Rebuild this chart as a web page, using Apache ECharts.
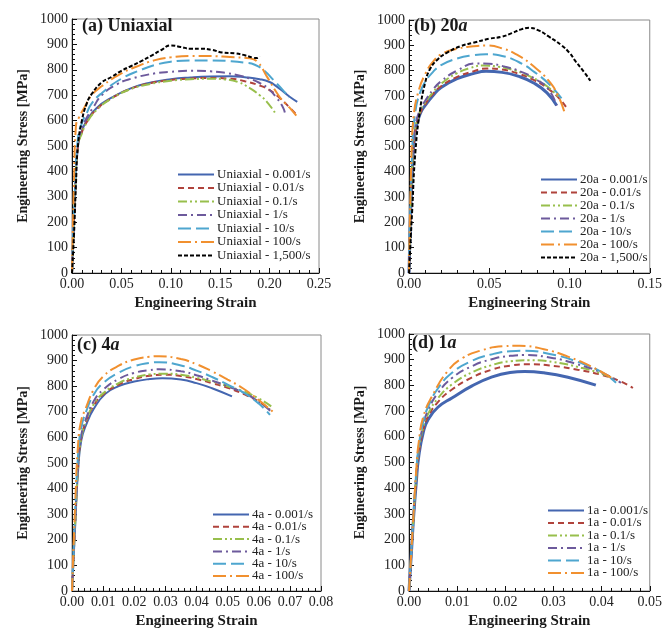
<!DOCTYPE html>
<html>
<head>
<meta charset="utf-8">
<script src="https://cdn.jsdelivr.net/npm/echarts@6/dist/echarts.min.js"></script>
<style>html,body{margin:0;padding:0;background:#fff;}#c{width:665px;height:630px;}</style>
</head>
<body>
<div id="c"></div>
<script>
// ---------- tick labels / axis ranges ----------
const panelTitles = ['(a) Uniaxial', '(b) 20{i|a}', '(c) 4{i|a}', '(d) 1{i|a}'];
const xMax = [0.25, 0.15, 0.08, 0.05];
const xStep = [0.05, 0.05, 0.01, 0.01];
const yMax = 1000;
const yStep = 100;
const rates7 = ['0.001/s', '0.01/s', '0.1/s', '1/s', '10/s', '100/s', '1,500/s'];
const prefixes = ['Uniaxial', '20a', '4a', '1a'];

// ---------- (a) Uniaxial ----------
const uni_0001 = [[0,0],[0.003,300],[0.006,500],[0.01,560],[0.015,600],[0.025,650],[0.04,690],[0.06,728],[0.08,750],[0.1,763],[0.12,770],[0.14,774],[0.16,775],[0.175,771],[0.19,763],[0.2,752],[0.207,735],[0.214,714],[0.221,692],[0.228,674]];
const uni_001 = [[0,0],[0.003,300],[0.006,500],[0.01,555],[0.015,595],[0.025,645],[0.04,688],[0.06,726],[0.08,748],[0.1,760],[0.12,766],[0.14,768],[0.16,765],[0.175,755],[0.19,738],[0.2,720],[0.21,690],[0.22,652],[0.226,628]];
const uni_01 = [[0,0],[0.003,300],[0.006,500],[0.01,550],[0.015,592],[0.025,642],[0.04,687],[0.06,725],[0.08,745],[0.1,757],[0.12,763],[0.14,765],[0.155,762],[0.168,752],[0.18,728],[0.19,700],[0.197,675],[0.206,628]];
const uni_1 = [[0,0],[0.003,320],[0.006,510],[0.01,570],[0.015,612],[0.022,655],[0.03,700],[0.045,742],[0.06,765],[0.084,786],[0.1,792],[0.12,796],[0.14,794],[0.155,788],[0.17,777],[0.18,765],[0.19,748],[0.198,728],[0.207,690],[0.214,648],[0.216,618]];
const uni_10 = [[0,0],[0.003,330],[0.006,530],[0.01,590],[0.015,630],[0.02,668],[0.03,708],[0.05,765],[0.07,800],[0.084,819],[0.1,832],[0.12,837],[0.14,837],[0.16,834],[0.175,828],[0.185,820],[0.195,795],[0.205,755],[0.213,722],[0.22,690]];
const uni_100 = [[0,0],[0.002,350],[0.004,580],[0.007,612],[0.012,648],[0.02,700],[0.03,735],[0.05,786],[0.065,812],[0.084,838],[0.1,849],[0.12,854],[0.14,854],[0.16,850],[0.18,845],[0.188,830],[0.197,775],[0.21,694],[0.22,652],[0.227,620]];
const uni_1500 = [[0,0],[0.002,150],[0.004,350],[0.006,500],[0.01,600],[0.015,668],[0.02,705],[0.03,750],[0.04,772],[0.05,796],[0.06,815],[0.07,834],[0.08,855],[0.09,877],[0.1,896],[0.11,890],[0.12,883],[0.13,883],[0.142,878],[0.152,868],[0.165,865],[0.175,857],[0.183,848],[0.187,846],[0.19,853]];

// ---------- (b) 20a ----------
const b_0001 = [[0,0],[0.002,400],[0.004,560],[0.007,630],[0.01,662],[0.015,702],[0.02,733],[0.03,768],[0.04,788],[0.048,797],[0.058,793],[0.068,778],[0.078,750],[0.086,712],[0.092,662]];
const b_001 = [[0,0],[0.002,400],[0.004,560],[0.007,632],[0.01,666],[0.015,708],[0.02,738],[0.03,775],[0.04,797],[0.048,808],[0.058,804],[0.068,788],[0.078,762],[0.088,722],[0.095,680],[0.099,644]];
const b_01 = [[0,0],[0.002,410],[0.004,570],[0.007,640],[0.01,672],[0.015,715],[0.02,748],[0.03,790],[0.038,810],[0.046,820],[0.056,815],[0.066,800],[0.076,775],[0.086,738],[0.094,690]];
const b_1 = [[0,0],[0.002,420],[0.004,580],[0.007,648],[0.01,680],[0.015,725],[0.02,758],[0.03,800],[0.042,828],[0.05,827],[0.06,815],[0.07,795],[0.08,762],[0.087,725],[0.092,662]];
const b_10 = [[0,0],[0.002,480],[0.004,640],[0.007,715],[0.01,755],[0.015,795],[0.02,822],[0.03,848],[0.04,861],[0.048,865],[0.058,858],[0.068,835],[0.078,795],[0.088,742],[0.095,690]];
const b_100 = [[0,0],[0.0015,450],[0.003,625],[0.006,720],[0.01,785],[0.015,835],[0.02,864],[0.03,886],[0.04,896],[0.048,899],[0.058,888],[0.068,860],[0.078,815],[0.087,760],[0.093,700],[0.097,632]];
const b_1500 = [[0,0],[0.002,250],[0.004,480],[0.007,650],[0.01,750],[0.013,805],[0.018,845],[0.024,872],[0.032,896],[0.04,910],[0.05,926],[0.058,934],[0.064,948],[0.07,963],[0.075,969],[0.081,958],[0.087,935],[0.095,900],[0.1,870],[0.104,835],[0.109,795],[0.113,760]];

// ---------- (c) 4a ----------
const c_0001 = [[0,0],[0.001,250],[0.002,480],[0.003,590],[0.0045,648],[0.007,712],[0.0107,770],[0.015,800],[0.02,818],[0.025,828],[0.029,831],[0.035,826],[0.04,812],[0.045,792],[0.0514,760]];
const c_001 = [[0,0],[0.001,260],[0.002,490],[0.003,600],[0.0045,660],[0.007,725],[0.01,768],[0.015,806],[0.02,828],[0.025,841],[0.03,845],[0.035,840],[0.04,828],[0.045,812],[0.05,794],[0.055,770],[0.06,740],[0.0636,708]];
const c_01 = [[0,0],[0.001,260],[0.002,490],[0.003,600],[0.0045,664],[0.007,730],[0.01,772],[0.015,812],[0.02,834],[0.025,846],[0.03,849],[0.035,845],[0.04,833],[0.045,818],[0.05,800],[0.055,780],[0.06,752],[0.064,721]];
const c_1 = [[0,0],[0.001,270],[0.002,500],[0.003,610],[0.0045,672],[0.007,742],[0.01,786],[0.015,828],[0.02,852],[0.025,863],[0.028,866],[0.035,858],[0.04,843],[0.045,822],[0.05,800],[0.055,775],[0.06,740],[0.064,700]];
const c_10 = [[0,0],[0.001,300],[0.002,540],[0.003,640],[0.0045,700],[0.007,768],[0.01,812],[0.015,853],[0.02,878],[0.025,891],[0.028,894],[0.035,881],[0.04,861],[0.045,836],[0.05,806],[0.055,776],[0.06,732],[0.0636,688]];
const c_100 = [[0,0],[0.001,330],[0.002,580],[0.003,668],[0.0043,710],[0.007,788],[0.01,838],[0.015,880],[0.02,904],[0.025,915],[0.028,917],[0.035,906],[0.04,886],[0.045,858],[0.05,826],[0.055,791],[0.06,746],[0.065,695]];

// ---------- (d) 1a ----------
const d_0001 = [[0,0],[0.0005,150],[0.001,300],[0.0015,420],[0.002,520],[0.003,620],[0.004,668],[0.006,715],[0.009,752],[0.013,797],[0.017,831],[0.021,850],[0.024,854],[0.028,849],[0.033,832],[0.0388,801]];
const d_001 = [[0,0],[0.0005,150],[0.001,300],[0.0015,430],[0.002,530],[0.003,630],[0.004,680],[0.006,735],[0.009,785],[0.013,830],[0.017,860],[0.021,877],[0.025,882],[0.03,876],[0.035,861],[0.04,841],[0.044,815],[0.0465,790]];
const d_01 = [[0,0],[0.0005,150],[0.001,300],[0.0015,440],[0.002,540],[0.003,640],[0.004,690],[0.006,750],[0.009,805],[0.013,850],[0.017,878],[0.021,894],[0.025,898],[0.03,891],[0.035,872],[0.04,846],[0.043,822]];
const d_1 = [[0,0],[0.0005,150],[0.001,300],[0.0015,450],[0.002,550],[0.003,650],[0.004,705],[0.006,770],[0.009,830],[0.013,874],[0.017,901],[0.021,915],[0.024,918],[0.03,906],[0.035,882],[0.04,850],[0.044,810]];
const d_10 = [[0,0],[0.0005,160],[0.001,310],[0.0015,460],[0.002,560],[0.003,662],[0.004,718],[0.006,788],[0.009,850],[0.013,895],[0.017,920],[0.021,933],[0.024,935],[0.03,919],[0.035,892],[0.04,852],[0.043,810]];
const d_100 = [[0,0],[0.0005,160],[0.001,320],[0.0015,470],[0.002,575],[0.003,680],[0.005,765],[0.008,855],[0.011,905],[0.015,936],[0.0195,952],[0.023,954],[0.028,941],[0.033,912],[0.038,872],[0.042,830]];

const panelData = [
  [uni_0001, uni_001, uni_01, uni_1, uni_10, uni_100, uni_1500],
  [b_0001, b_001, b_01, b_1, b_10, b_100, b_1500],
  [c_0001, c_001, c_01, c_1, c_10, c_100],
  [d_0001, d_001, d_01, d_1, d_10, d_100]
];

// ---------- styles ----------
const colors = ['#4466b0', '#b0433c', '#98bf4c', '#6d5a9c', '#4ea6cf', '#f1902f', '#000000'];
const dashes = ['solid', [6, 4], [9, 3, 2, 3, 2, 3], [9, 4, 2, 4], [13, 5], [13, 4, 2, 4], [4, 2]];
const firstWidth = [2, 3, 2, 3];
const serif = '"Liberation Serif", "DejaVu Serif", serif';

const grids = [
  {left: 72, top: 19, width: 247, height: 254},
  {left: 409, top: 20, width: 246, height: 253},
  {left: 72, top: 335, width: 249, height: 257},
  {left: 409, top: 334, width: 246, height: 257}
];
const titlePos = [[82, 17], [414, 17], [77, 336], [412, 334]];
const legendPos = [[177, 168], [540, 173], [212, 508], [547, 504]];
const legendGap = [0.5, 0, -0.7, -0.5];

const option = {
  animation: false,
  backgroundColor: '#fff',
  grid: grids.map(g => Object.assign({show: true, borderColor: '#8a8a8a', borderWidth: 1, backgroundColor: 'transparent'}, g)),
  title: panelTitles.map((t, i) => ({
    text: t, left: titlePos[i][0], top: titlePos[i][1], padding: 0,
    textStyle: {fontFamily: serif, fontWeight: 'bold', fontSize: 18, color: '#1a1a1a',
      rich: {i: {fontFamily: serif, fontWeight: 'bold', fontStyle: 'italic', fontSize: 18, color: '#1a1a1a'}}}
  })),
  xAxis: grids.map((g, i) => ({
    gridIndex: i, type: 'value', min: 0, max: xMax[i], interval: xStep[i],
    name: 'Engineering Strain', nameLocation: 'middle', nameGap: 23,
    nameTextStyle: {fontFamily: serif, fontWeight: 'bold', fontSize: 15, color: '#1a1a1a'},
    axisLine: {lineStyle: {color: '#111', width: 1}},
    axisTick: {inside: true, length: 5, lineStyle: {color: '#111'}},
    minorTick: {show: true, splitNumber: 5, length: 3, lineStyle: {color: '#111'}},
    splitLine: {show: false},
    axisLabel: {fontFamily: serif, fontSize: 14, color: '#222', margin: 4, formatter: v => v.toFixed(2)}
  })),
  yAxis: grids.map((g, i) => ({
    gridIndex: i, type: 'value', min: 0, max: yMax, interval: yStep,
    name: 'Engineering Stress [MPa]', nameLocation: 'middle', nameGap: 42,
    nameTextStyle: {fontFamily: serif, fontWeight: 'bold', fontSize: 14, color: '#1a1a1a'},
    axisLine: {lineStyle: {color: '#111', width: 1}},
    axisTick: {inside: true, length: 5, lineStyle: {color: '#111'}},
    minorTick: {show: true, splitNumber: 5, length: 3, lineStyle: {color: '#111'}},
    splitLine: {show: false},
    axisLabel: {fontFamily: serif, fontSize: 14, color: '#222', margin: 4, formatter: v => String(Math.round(v))}
  })),
  legend: panelData.map((arr, p) => ({
    orient: 'vertical', left: legendPos[p][0], top: legendPos[p][1], padding: 0,
    itemWidth: 36, itemHeight: 14, itemGap: legendGap[p],
    data: arr.map((_, k) => prefixes[p] + ' - ' + rates7[k]),
    itemStyle: {opacity: 0},
    textStyle: {fontFamily: serif, fontSize: 13, color: '#222', padding: [0, 0, 0, -2]},
    selectedMode: false
  })),
  series: []
};

panelData.forEach((arr, p) => {
  arr.forEach((data, k) => {
    option.series.push({
      type: 'line', name: prefixes[p] + ' - ' + rates7[k],
      xAxisIndex: p, yAxisIndex: p, data: data,
      symbol: 'none', smooth: 0.5, clip: true,
      lineStyle: {color: colors[k], width: k === 0 ? firstWidth[p] : 2, type: dashes[k]},
      itemStyle: {color: colors[k]}
    });
  });
});

const chart = echarts.init(document.getElementById('c'), null, {renderer: 'canvas'});
chart.setOption(option);
</script>
</body>
</html>
